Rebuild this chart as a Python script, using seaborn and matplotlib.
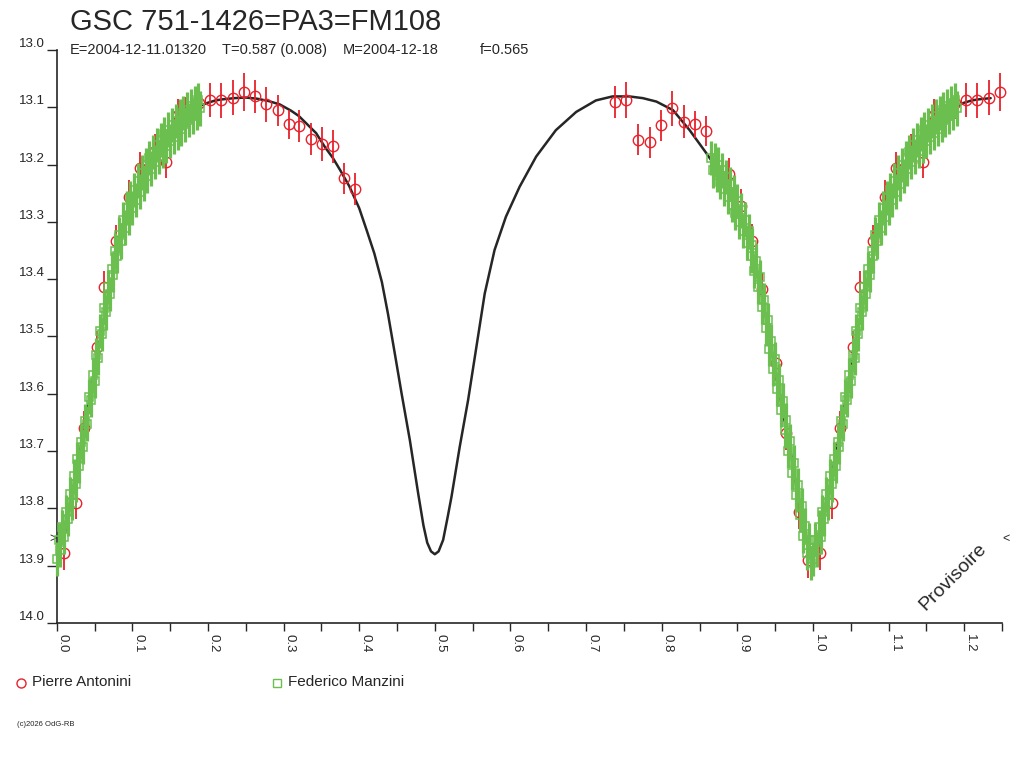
import numpy as np
import pandas as pd
import seaborn as sns
import matplotlib
matplotlib.use("Agg")
import matplotlib.pyplot as plt
from matplotlib.lines import Line2D
from matplotlib.transforms import blended_transform_factory

# model light curve (phase 0..1, repeated past 1.0)
curve_phase = [0.000, 0.010, 0.020, 0.030, 0.040, 0.050, 0.060, 0.070, 0.080, 0.090,
               0.100, 0.110, 0.120, 0.130, 0.140, 0.150, 0.160, 0.170, 0.180, 0.190,
               0.200, 0.210, 0.220, 0.235, 0.250, 0.265, 0.280, 0.295, 0.310, 0.320,
               0.330, 0.343, 0.355, 0.365, 0.375, 0.387, 0.400, 0.410, 0.420, 0.430,
               0.438, 0.447, 0.456, 0.467, 0.478, 0.485, 0.490, 0.495, 0.500, 0.505,
               0.511, 0.517, 0.522, 0.533, 0.544, 0.555, 0.566, 0.579, 0.594, 0.612,
               0.634, 0.660, 0.687, 0.713, 0.735, 0.757, 0.775, 0.793, 0.815, 0.837,
               0.859, 0.872, 0.889, 0.903, 0.916, 0.925, 0.933, 0.942, 0.951, 0.960,
               0.971, 0.980, 0.990]
curve_mag = [13.880, 13.850, 13.778, 13.706, 13.635, 13.560, 13.485, 13.418, 13.355, 13.305,
             13.265, 13.232, 13.203, 13.178, 13.157, 13.140, 13.126, 13.114, 13.104, 13.097,
             13.092, 13.088, 13.086, 13.084, 13.083, 13.085, 13.089, 13.095, 13.106, 13.115,
             13.128, 13.145, 13.170, 13.188, 13.210, 13.238, 13.276, 13.315, 13.355, 13.405,
             13.460, 13.529, 13.599, 13.681, 13.774, 13.830, 13.860, 13.875, 13.880, 13.875,
             13.855, 13.815, 13.780, 13.692, 13.611, 13.518, 13.425, 13.349, 13.291, 13.239,
             13.186, 13.140, 13.108, 13.088, 13.081, 13.081, 13.084, 13.090, 13.105, 13.140,
             13.180, 13.205, 13.248, 13.288, 13.337, 13.380, 13.430, 13.500, 13.565, 13.630,
             13.705, 13.778, 13.845]

# Pierre Antonini
pa_phase = [0.009, 0.025, 0.036, 0.053, 0.062, 0.079, 0.095, 0.110, 0.130, 0.145,
            0.160, 0.169, 0.188, 0.203, 0.217, 0.233, 0.248, 0.262, 0.277, 0.292,
            0.307, 0.321, 0.336, 0.351, 0.365, 0.380, 0.394,
            0.738, 0.753, 0.769, 0.784, 0.799, 0.814, 0.829, 0.844, 0.859, 0.889,
            0.905, 0.919, 0.933, 0.951, 0.964, 0.981, 0.994]
pa_mag = [13.878, 13.790, 13.660, 13.518, 13.414, 13.334, 13.257, 13.206, 13.176, 13.195,
          13.113, 13.110, 13.092, 13.087, 13.088, 13.083, 13.074, 13.081, 13.095, 13.105,
          13.130, 13.132, 13.155, 13.164, 13.168, 13.224, 13.243,
          13.091, 13.087, 13.157, 13.161, 13.131, 13.102, 13.125, 13.130, 13.142, 13.217,
          13.273, 13.334, 13.417, 13.547, 13.669, 13.806, 13.890]
pa_err = [0.030, 0.028, 0.030, 0.027, 0.029, 0.028, 0.030, 0.028, 0.029, 0.028,
          0.027, 0.028, 0.028, 0.030, 0.031, 0.030, 0.033, 0.029, 0.031, 0.027,
          0.026, 0.028, 0.028, 0.030, 0.029, 0.027, 0.028,
          0.028, 0.031, 0.027, 0.027, 0.027, 0.030, 0.029, 0.024, 0.026, 0.028,
          0.030, 0.030, 0.028, 0.030, 0.029, 0.030, 0.032]

# Federico Manzini
fm_phase = [0.0000, 0.0025, 0.0050, 0.0075, 0.0100, 0.0125, 0.0150, 0.0175, 0.0200, 0.0225,
            0.0250, 0.0275, 0.0300, 0.0325, 0.0350, 0.0375, 0.0400, 0.0425, 0.0450, 0.0475,
            0.0500, 0.0525, 0.0550, 0.0575, 0.0600, 0.0625, 0.0650, 0.0675, 0.0700, 0.0725,
            0.0750, 0.0775, 0.0800, 0.0825, 0.0850, 0.0875, 0.0900, 0.0925, 0.0950, 0.0975,
            0.1000, 0.1025, 0.1050, 0.1075, 0.1100, 0.1125, 0.1150, 0.1175, 0.1200, 0.1225,
            0.1250, 0.1275, 0.1300, 0.1325, 0.1350, 0.1375, 0.1400, 0.1425, 0.1450, 0.1475,
            0.1500, 0.1525, 0.1550, 0.1575, 0.1600, 0.1625, 0.1650, 0.1675, 0.1700, 0.1725,
            0.1750, 0.1775, 0.1800, 0.1825, 0.1850, 0.1875, 0.1900,
            0.8650, 0.8675, 0.8700, 0.8725, 0.8750, 0.8775, 0.8800, 0.8825, 0.8850, 0.8875,
            0.8900, 0.8925, 0.8950, 0.8975, 0.9000, 0.9025, 0.9050, 0.9075, 0.9100, 0.9125,
            0.9150, 0.9175, 0.9200, 0.9225, 0.9250, 0.9275, 0.9300, 0.9325, 0.9350, 0.9375,
            0.9400, 0.9425, 0.9450, 0.9475, 0.9500, 0.9525, 0.9550, 0.9575, 0.9600, 0.9625,
            0.9650, 0.9675, 0.9700, 0.9725, 0.9750, 0.9775, 0.9800, 0.9825, 0.9850, 0.9875,
            0.9900, 0.9925, 0.9950, 0.9975]
fm_mag = [13.888, 13.855, 13.872, 13.832, 13.850, 13.806, 13.818, 13.775, 13.790, 13.744,
          13.758, 13.714, 13.726, 13.684, 13.692, 13.648, 13.652, 13.605, 13.610, 13.568,
          13.578, 13.532, 13.538, 13.490, 13.496, 13.450, 13.458, 13.414, 13.426, 13.383,
          13.392, 13.350, 13.360, 13.322, 13.334, 13.296, 13.310, 13.276, 13.292, 13.258,
          13.276, 13.244, 13.262, 13.228, 13.247, 13.214, 13.233, 13.201, 13.220, 13.188,
          13.207, 13.178, 13.196, 13.166, 13.186, 13.157, 13.176, 13.147, 13.168, 13.139,
          13.159, 13.131, 13.151, 13.124, 13.144, 13.116, 13.137, 13.110, 13.130, 13.104,
          13.122, 13.098, 13.116, 13.093, 13.110, 13.088, 13.102,
          13.188, 13.210, 13.192, 13.218, 13.200, 13.230, 13.210, 13.242, 13.222, 13.256,
          13.234, 13.270, 13.248, 13.284, 13.264, 13.300, 13.280, 13.316, 13.296, 13.336,
          13.316, 13.360, 13.340, 13.386, 13.368, 13.414, 13.396, 13.448, 13.436, 13.486,
          13.472, 13.522, 13.508, 13.556, 13.540, 13.592, 13.576, 13.628, 13.612, 13.664,
          13.646, 13.700, 13.682, 13.738, 13.720, 13.776, 13.760, 13.812, 13.795, 13.848,
          13.830, 13.878, 13.856, 13.895]
fm_err = 0.030

title = "GSC 751-1426=PA3=FM108"
info = ["E=2004-12-11.01320", "T=0.587 (0.008)", "M=2004-12-18", "f=0.565"]
observers = ["Pierre Antonini", "Federico Manzini"]

RED = "#e8212b"
GREEN = "#6abf4f"
INK = "#262626"


def fold(phase, *cols):
    # phases below 0.25 are shown a second time after 1.0
    phase = np.asarray(phase, dtype=float)
    again = phase < 0.25
    out = [np.concatenate([phase, phase[again] + 1.0])]
    for c in cols:
        c = np.broadcast_to(np.asarray(c, dtype=float), phase.shape)
        out.append(np.concatenate([c, c[again]]))
    return out


sns.set_theme(style="white")
plt.rcParams["font.family"] = ["Liberation Sans", "DejaVu Sans"]

fig = plt.figure(figsize=(10.24, 7.68), dpi=100)
ax = fig.add_axes([56.7 / 1024, 1 - 623 / 768, (1002 - 56.7) / 1024, 573 / 768])

cx, cy = fold(curve_phase, curve_mag)
curve = pd.DataFrame({"phase": cx, "mag": cy}).sort_values("phase")
sns.lineplot(data=curve, x="phase", y="mag", ax=ax, color=INK, lw=1.8,
             estimator=None, sort=False, zorder=1)

px, py, pe = fold(pa_phase, pa_mag, pa_err)
ax.errorbar(px, py, yerr=pe, fmt="o", ms=7.5, mfc="none", mec=RED, mew=1.0,
            ecolor=RED, elinewidth=1.3, capsize=0, zorder=2, clip_on=False)

gx, gy, ge = fold(fm_phase, fm_mag, fm_err)
ax.errorbar(gx, gy, yerr=ge, fmt="s", ms=5.5, mfc="none", mec=GREEN, mew=1.1,
            ecolor=GREEN, elinewidth=2.3, capsize=0, zorder=3, clip_on=False)

ax.set_xlim(0, 1.25)
ax.set_ylim(14.0, 13.0)
ax.set_xlabel("")
ax.set_ylabel("")

ax.set_xticks(np.arange(0, 1.21, 0.1))
ax.set_xticks(np.arange(0.05, 1.26, 0.1), minor=True)
ax.set_yticks(np.arange(13.0, 14.01, 0.1))
ax.xaxis.set_major_formatter("{x:.1f}")
ax.yaxis.set_major_formatter("{x:.1f}")

ax.tick_params(axis="x", which="both", direction="out", length=6, width=1,
               color=INK, bottom=True, labelsize=9.5, labelcolor=INK, pad=2)
ax.tick_params(axis="y", which="major", direction="out", length=7.5, width=1,
               color=INK, left=True, labelsize=9.5, labelcolor=INK, pad=1)
plt.setp(ax.get_xticklabels(), rotation=-90, ha="left", va="top")
plt.setp(ax.get_yticklabels(), va="bottom")

sns.despine(ax=ax)
for side in ["left", "bottom"]:
    ax.spines[side].set_color(INK)
    ax.spines[side].set_linewidth(1.2)

# small markers on both sides of the plot
side = blended_transform_factory(ax.transAxes, ax.transData)
ax.text(0.0, 13.853, ">", transform=side, ha="right", va="center",
        fontsize=9, color=INK)
ax.text(1.0, 13.853, "<", transform=side, ha="left", va="center",
        fontsize=9, color=INK)

fig.text(953 / 1024, 1 - 577 / 768, "Provisoire", rotation=45, fontsize=14,
         ha="center", va="center", color=INK)

fig.text(70 / 1024, 1 - 30 / 768, title, fontsize=21, color=INK, va="baseline")
for x0, s in zip([70, 221.5, 343, 480], info):
    fig.text(x0 / 1024, 1 - 54 / 768, s, fontsize=10.5, color=INK, va="baseline")

fig.add_artist(Line2D([21 / 1024], [1 - 683 / 768], marker="o", ms=6.5, mfc="none",
                      mec=RED, mew=1.0, transform=fig.transFigure))
fig.text(32 / 1024, 1 - 682 / 768, observers[0], fontsize=11, color=INK, va="center")
fig.add_artist(Line2D([277 / 1024], [1 - 683 / 768], marker="s", ms=5.5, mfc="none",
                      mec=GREEN, mew=1.0, transform=fig.transFigure))
fig.text(288 / 1024, 1 - 682 / 768, observers[1], fontsize=11, color=INK, va="center")

fig.text(17 / 1024, 1 - 725 / 768, "(c)2026 OdG-RB", fontsize=5.5, color=INK,
         va="center")

fig.savefig("out.png", dpi=100)
